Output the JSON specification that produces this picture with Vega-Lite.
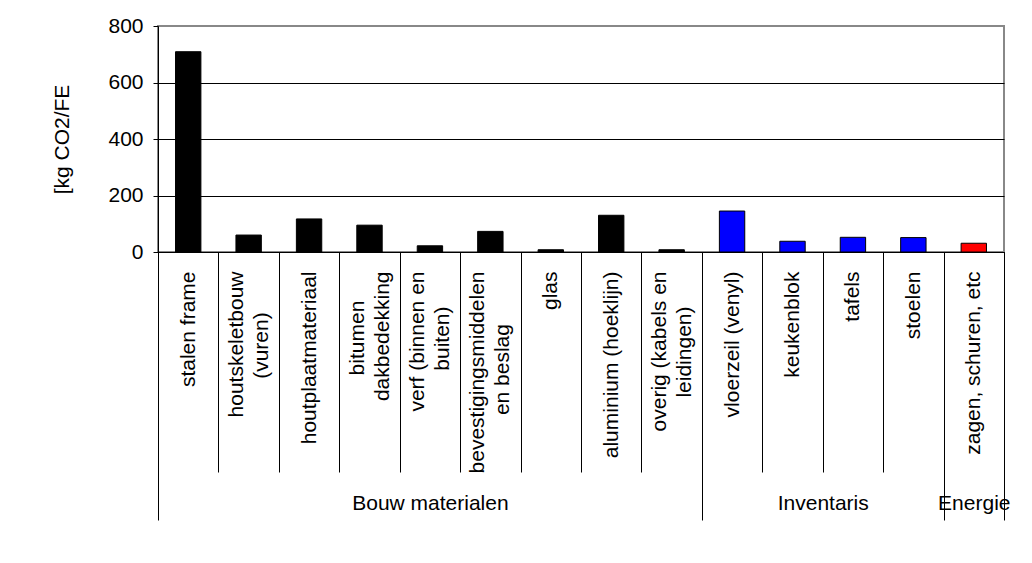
{
  "$schema": "https://vega.github.io/schema/vega-lite/v6.json",
  "autosize": "none",
  "width": 846,
  "height": 226,
  "padding": {"left": 158, "top": 26, "right": 28, "bottom": 311},
  "background": "white",
  "config": {
    "font": "Liberation Sans",
    "view": {"stroke": "#888888", "strokeWidth": 2}
  },
  "data": {
    "values": [
      {"item": "stalen frame", "group": "Bouw materialen", "value": 709},
      {"item": "houtskeletbouw (vuren)", "group": "Bouw materialen", "value": 60},
      {"item": "houtplaatmateriaal", "group": "Bouw materialen", "value": 117},
      {"item": "bitumen dakbedekking", "group": "Bouw materialen", "value": 95},
      {"item": "verf (binnen en buiten)", "group": "Bouw materialen", "value": 22},
      {"item": "bevestigingsmiddelen en beslag", "group": "Bouw materialen", "value": 73},
      {"item": "glas", "group": "Bouw materialen", "value": 8},
      {"item": "aluminium (hoeklijn)", "group": "Bouw materialen", "value": 130},
      {"item": "overig (kabels en leidingen)", "group": "Bouw materialen", "value": 8},
      {"item": "vloerzeil (venyl)", "group": "Inventaris", "value": 145},
      {"item": "keukenblok", "group": "Inventaris", "value": 38},
      {"item": "tafels", "group": "Inventaris", "value": 52},
      {"item": "stoelen", "group": "Inventaris", "value": 51},
      {"item": "zagen, schuren, etc", "group": "Energie", "value": 31}
    ]
  },
  "layer": [
    {
      "mark": {"type": "bar", "stroke": "black", "strokeWidth": 1, "width": {"band": 0.42}},
      "encoding": {
        "x": {
          "field": "item",
          "type": "nominal",
          "sort": null,
          "scale": {"paddingInner": 0, "paddingOuter": 0},
          "axis": {
            "orient": "bottom",
            "title": null,
            "domain": true,
            "domainColor": "black",
            "domainWidth": 1,
            "tickBand": "extent",
            "tickSize": 220,
            "tickColor": "black",
            "tickWidth": 1,
            "labelAngle": 270,
            "labelAlign": "right",
            "labelBaseline": "middle",
            "labelPadding": -201,
            "labelOffset": {"condition": {"test": "indexof(['houtskeletbouw (vuren)', 'bitumen dakbedekking', 'verf (binnen en buiten)', 'bevestigingsmiddelen en beslag', 'overig (kabels en leidingen)'], datum.value) >= 0", "value": -12.5}, "value": 0},
            "labelFontSize": 21,
            "labelColor": "black",
            "labelLimit": 400,
            "labelLineHeight": 25,
            "labelOverlap": false,
            "labelBound": false,
            "labelFlush": false,
            "labelExpr": "datum.value == 'houtskeletbouw (vuren)' ? ['houtskeletbouw', '(vuren)\u00a0\u00a0\u00a0\u00a0\u00a0\u00a0\u00a0\u2060'] : datum.value == 'bitumen dakbedekking' ? ['bitumen\u00a0\u00a0\u00a0\u00a0\u00a0\u2060', 'dakbedekking'] : datum.value == 'verf (binnen en buiten)' ? ['verf (binnen en', 'buiten)\u00a0\u00a0\u00a0\u00a0\u00a0\u00a0\u2060'] : datum.value == 'bevestigingsmiddelen en beslag' ? ['bevestigingsmiddelen', 'en beslag\u00a0\u00a0\u00a0\u00a0\u00a0\u00a0\u00a0\u00a0\u00a0\u2060'] : datum.value == 'overig (kabels en leidingen)' ? ['overig (kabels en', 'leidingen)\u00a0\u00a0\u00a0\u00a0\u00a0\u00a0\u2060'] : datum.label"
          }
        },
        "y": {
          "field": "value",
          "type": "quantitative",
          "scale": {"domain": [0, 800]},
          "axis": {
            "title": "[kg CO2/FE",
            "values": [0, 200, 400, 600, 800],
            "grid": true,
            "gridColor": {"condition": {"test": "datum.value == 800", "value": "#888888"}, "value": "black"},
            "gridWidth": 1,
            "domainColor": "black",
            "tickColor": "black",
            "tickSize": 5,
            "labelFontSize": 21,
            "labelColor": "black",
            "labelPadding": 10,
            "titleFontSize": 21,
            "titleFontWeight": "normal",
            "titleColor": "black",
            "titlePadding": 35
          }
        },
        "color": {
          "field": "group",
          "type": "nominal",
          "scale": {"domain": ["Bouw materialen", "Inventaris", "Energie"], "range": ["#000000", "#0000FF", "#FF0000"]},
          "legend": null
        }
      }
    },
    {
      "mark": {"type": "point", "opacity": 0},
      "encoding": {
        "x": {
          "field": "item",
          "type": "nominal",
          "sort": null,
          "axis": {
            "orient": "bottom",
            "title": null,
            "domain": false,
            "grid": false,
            "tickBand": "extent",
            "tickSize": 268,
            "tickColor": "black",
            "tickWidth": 1,
            "tickOpacity": {"condition": {"test": "!datum.value || indexof(['overig (kabels en leidingen)', 'stoelen', 'zagen, schuren, etc'], datum.value) >= 0", "value": 1}, "value": 0},
            "labelExpr": "datum.value == 'verf (binnen en buiten)' ? 'Bouw materialen' : datum.value == 'tafels' ? 'Inventaris' : datum.value == 'zagen, schuren, etc' ? 'Energie' : ''",
            "labelAngle": 0,
            "labelAlign": "center",
            "labelBaseline": "middle",
            "labelPadding": -17,
            "labelOffset": {"condition": {"test": "datum.value == 'tafels'", "value": -30.2}, "value": 0},
            "labelFontSize": 21,
            "labelColor": "black",
            "labelOverlap": false,
            "labelBound": false,
            "labelFlush": false,
            "labelLimit": 0
          }
        }
      }
    }
  ],
  "resolve": {"axis": {"x": "independent"}}
}
